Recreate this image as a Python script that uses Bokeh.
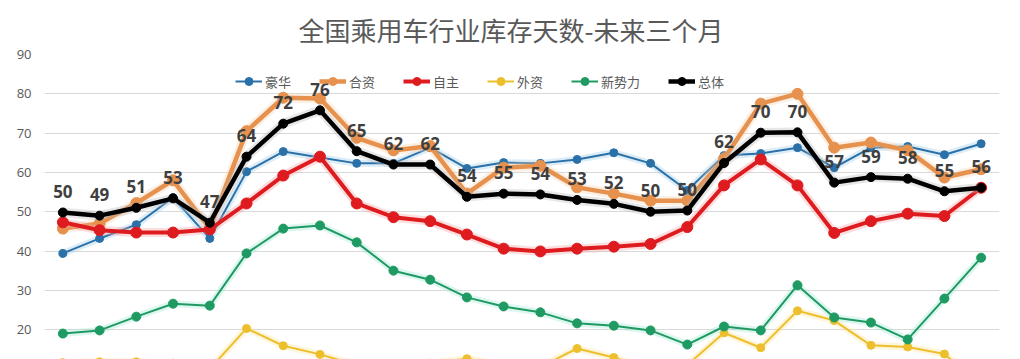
from bokeh.plotting import figure
from bokeh.models import Range1d, FixedTicker, Legend, LegendItem, ColumnDataSource
from bokeh.core.properties import value
from bokeh.embed import file_html
from bokeh.resources import INLINE

title_text = "全国乘用车行业库存天数-未来三个月"
periods = list(range(26))

luxury = [39.4, 43.2, 46.7, 53.6, 43.2, 60.2, 65.3, 63.8, 62.3, 62.3, 66.3, 61.0, 62.5, 62.3,
          63.3, 65.0, 62.3, 55.4, 64.3, 64.8, 66.3, 61.2, 66.3, 66.6, 64.5, 67.3]
joint = [45.7, 47.0, 52.2, 58.0, 45.7, 70.5, 79.0, 78.8, 68.8, 65.6, 66.7, 54.6, 61.2, 61.7,
         56.2, 54.6, 52.8, 52.8, 63.5, 77.5, 80.0, 66.3, 67.6, 65.6, 58.7, 60.8]
domestic = [47.3, 45.3, 44.7, 44.7, 45.5, 52.1, 59.2, 64.0, 52.1, 48.6, 47.6, 44.2, 40.6, 39.9,
            40.6, 41.1, 41.8, 46.1, 56.7, 63.3, 56.7, 44.6, 47.6, 49.5, 48.9, 56.1]
foreign = [11.6, 11.8, 11.8, 11.5, 10.0, 20.3, 15.9, 13.7, 11.0, 11.0, 11.5, 12.6, 11.0, 10.5,
           15.2, 12.9, 10.0, 11.0, 19.2, 15.4, 24.8, 22.3, 16.0, 15.6, 13.8, 6.0]
newforce = [19.0, 19.8, 23.3, 26.6, 26.1, 39.4, 45.7, 46.5, 42.2, 35.0, 32.7, 28.2, 25.9, 24.4,
            21.6, 21.0, 19.8, 16.2, 20.8, 19.8, 31.3, 23.1, 21.8, 17.5, 27.9, 38.3]
total = [49.8, 49.0, 51.0, 53.4, 47.2, 64.0, 72.4, 75.8, 65.4, 62.0, 62.0, 53.8, 54.6, 54.4,
         53.0, 52.0, 50.0, 50.3, 62.4, 70.1, 70.2, 57.4, 58.8, 58.4, 55.2, 56.1]

series_names = ["豪华", "合资", "自主", "外资", "新势力", "总体"]
y_ticks = [10, 20, 30, 40, 50, 60, 70, 80, 90]

p = figure(width=1012, height=359, output_backend="svg", toolbar_location=None,
           x_range=Range1d(-0.5, 25.5), y_range=Range1d(12.4, 90),
           min_border_left=44, min_border_right=13, min_border_top=54, min_border_bottom=0)
p.outline_line_color = None
p.background_fill_color = "white"
p.border_fill_color = "white"

p.title.text = title_text
p.title.align = "left"
p.title.text_font = "Noto Sans CJK SC"
p.title.text_font_size = "26px"
p.title.text_font_style = "normal"
p.title.text_color = "#595959"
p.title.standoff = 14
p.title.offset = 254

p.xaxis.visible = False
p.xgrid.visible = False
p.yaxis.ticker = FixedTicker(ticks=y_ticks)
p.yaxis.axis_line_color = None
p.yaxis.major_tick_line_color = None
p.yaxis.minor_tick_line_color = None
p.yaxis.major_label_text_font = "Open Sans"
p.yaxis.major_label_text_font_size = "13px"
p.yaxis.major_label_text_color = "#595959"
p.yaxis.major_label_standoff = 7
p.ygrid.ticker = FixedTicker(ticks=y_ticks)
p.ygrid.grid_line_color = "#d9d9d9"
p.ygrid.grid_line_width = 1.2

styles = [
    (luxury, "#2B71A8", "#9ccbec", 2, 8),
    (joint, "#E6924E", "#f6d2b2", 4.5, 11),
    (domestic, "#DE1B1F", "#f5a0a2", 4, 11),
    (foreign, "#EDBF2C", "#f8e59a", 2, 8),
    (newforce, "#1F9A62", "#9fe8d3", 2, 9),
    (total, "#000000", "#bbbbbb", 4.5, 9),
]

items = []
for name, (data, col, glow, lw, ms) in zip(series_names, styles):
    src = ColumnDataSource(dict(x=periods, y=data))
    p.line("x", "y", source=src, line_color=glow, line_width=lw + 5, line_alpha=0.35)
    r1 = p.line("x", "y", source=src, line_color=col, line_width=lw)
    r2 = p.scatter("x", "y", source=src, size=ms, fill_color=col, line_color=col)
    items.append(LegendItem(label=name, renderers=[r1, r2]))

labels = [f"{v:.0f}" for v in total]
p.text(x=periods, y=total, text=labels, text_align="center", text_baseline="middle",
       y_offset=-21, text_font=value("Open Sans"), text_font_size="17px",
       text_color="#3f3f3f", text_font_style="bold")

legend = Legend(items=items, orientation="horizontal", location=(191, 268),
                label_text_font="Noto Sans CJK SC", label_text_font_size="13px",
                label_text_color="#595959", glyph_width=27, glyph_height=20,
                label_height=20, label_standoff=3, spacing=28, padding=0, margin=0,
                border_line_color=None, background_fill_alpha=0)
p.add_layout(legend)

open("out.html", "w").write(file_html(p, INLINE))
